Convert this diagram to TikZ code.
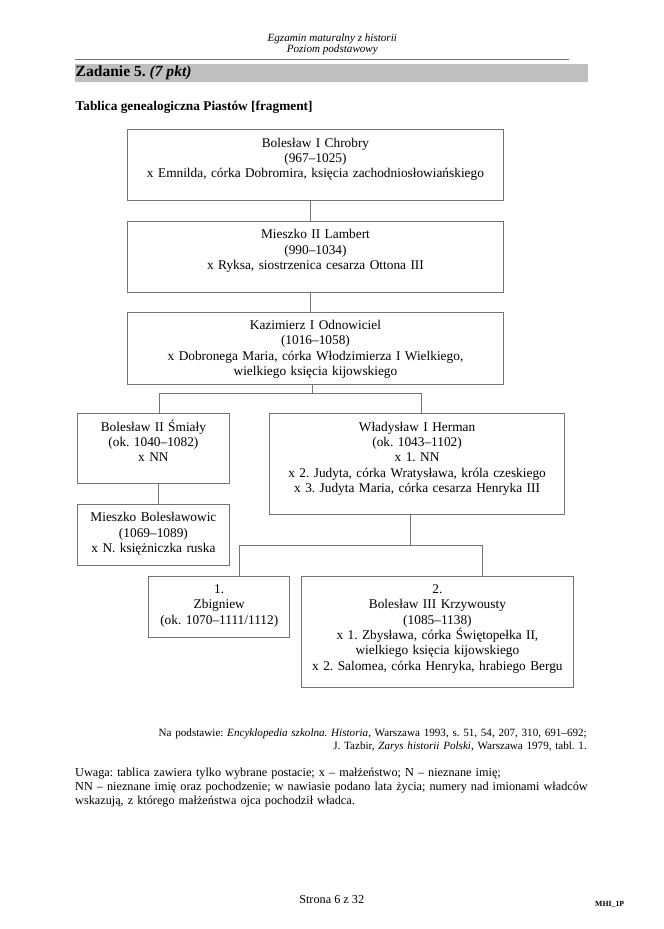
\documentclass[tikz,border=0pt]{standalone}
\usepackage{fontspec}
\setmainfont{Liberation Serif}
\frenchspacing
\tikzset{
  osoba/.style={draw=black!55,line width=0.8pt,inner sep=0pt,align=center,anchor=north west,
    text height=15.75pt,font=\fontsize{12}{13.8}\selectfont},
  linia/.style={draw=black!55,line width=0.8pt},
}
\begin{document}
\begin{tikzpicture}[x=0.9pt,y=-0.9pt]
\useasboundingbox (0,0) rectangle (664,929);
% naglowek strony
\node[font=\fontsize{10}{11}\selectfont\itshape,anchor=base,inner sep=0pt](nag1) at (332.3,41.7){Egzamin maturalny z historii};
\node[font=\fontsize{10}{11}\selectfont\itshape,anchor=base,inner sep=0pt](nag2) at (332.3,53){Poziom podstawowy};
\draw[linia](75,59.3)--(569,59.3);
\fill[black!25](75,64) rectangle (588.3,81.7);
\node[font=\fontsize{14}{16}\selectfont\bfseries,anchor=base west,inner sep=0pt](zad) at (75.5,77){Zadanie 5. \textit{(7 pkt)}};
\node[font=\fontsize{12}{14}\selectfont\bfseries,anchor=base west,inner sep=0pt](tyt) at (75.5,110){Tablica genealogiczna Piastów [fragment]};
% tablica
\node[osoba,text width=337.9pt,text depth=47.9pt](b1) at (127.3,129.3){Bolesław I Chrobry\\(967–1025)\\x Emnilda, córka Dobromira, księcia zachodniosłowiańskiego};
\node[osoba,text width=337.9pt,text depth=47.9pt](b2) at (127.3,221){Mieszko II Lambert\\(990–1034)\\x Ryksa, siostrzenica cesarza Ottona III};
\node[osoba,text width=337.9pt,text depth=49.3pt](b3) at (127.3,311.7){Kazimierz I Odnowiciel\\(1016–1058)\\x Dobronega Maria, córka Włodzimierza I Wielkiego,\\wielkiego księcia kijowskiego};
\node[osoba,text width=137.3pt,text depth=47.25pt](b4) at (76.7,413.3){Bolesław II Śmiały\\(ok. 1040–1082)\\x NN};
\node[osoba,text width=137.3pt,text depth=39.15pt](b5) at (76.7,504){Mieszko Bolesławowic\\(1069–1089)\\x N. księżniczka ruska};
\node[osoba,text width=265.2pt,text depth=75.15pt](b6) at (269.3,413.3){Władysław I Herman\\(ok. 1043–1102)\\x 1. NN\\x 2. Judyta, córka Wratysława, króla czeskiego\\x 3. Judyta Maria, córka cesarza Henryka III};
\node[osoba,text width=126.9pt,text depth=39.15pt](b7) at (148.3,575.7){1.\\Zbigniew\\(ok. 1070–1111/1112)};
\node[osoba,text width=245.3pt,text depth=84.15pt](b8) at (300.7,575.7){2.\\Bolesław III Krzywousty\\(1085–1138)\\x 1. Zbysława, córka Świętopełka II,\\wielkiego księcia kijowskiego\\x 2. Salomea, córka Henryka, hrabiego Bergu};
\coordinate(k1) at (310,210);
\coordinate(k3) at (312.7,393.3);
\coordinate(k4) at (159,393.3);
\coordinate(k6) at (421.7,393.3);
\coordinate(k5) at (158.3,494);
\coordinate(k9) at (410,545.5);
\coordinate(k7) at (239,545.5);
\coordinate(k8) at (482.7,545.5);
\draw[linia](b1.south -| k1)--(b2.north -| k1);
\draw[linia](b2.south -| k1)--(b3.north -| k1);
\draw[linia](b3.south -| k3)--(k3);
\draw[linia](b4.north -| k4)--(k4)--(k6)--(b6.north -| k6);
\draw[linia](b4.south -| k5)--(b5.north -| k5);
\draw[linia](b6.south -| k9)--(k9);
\draw[linia](b7.north -| k7)--(k7)--(k8)--(b8.north -| k8);
% zrodla i uwaga
\node[font=\fontsize{10}{11.6}\selectfont,text width=500pt,align=right,anchor=base east,inner sep=0pt](zrodlo) at (587,736.5){Na podstawie: \textit{Encyklopedia szkolna. Historia}, Warszawa 1993, s. 51, 54, 207, 310, 691–692;\\J. Tazbir, \textit{Zarys historii Polski}, Warszawa 1979, tabl. 1.};
\node[font=\fontsize{11}{12.6}\selectfont,text width=520pt,align=left,anchor=base west,inner sep=0pt](uwaga) at (75,776){Uwaga: tablica zawiera tylko wybrane postacie; x – małżeństwo; N – nieznane imię;\\NN – nieznane imię oraz pochodzenie; w nawiasie podano lata życia; numery nad imionami władców\\wskazują, z którego małżeństwa ojca pochodził władca.};
% stopka
\node[font=\fontsize{11}{13}\selectfont,anchor=base,inner sep=0pt](strona) at (331.7,903){Strona 6 z 32};
\node[font=\fontsize{7}{8}\selectfont\bfseries,anchor=base west,inner sep=0pt](kod) at (595,906){MHI\_1P};
\end{tikzpicture}
\end{document}
